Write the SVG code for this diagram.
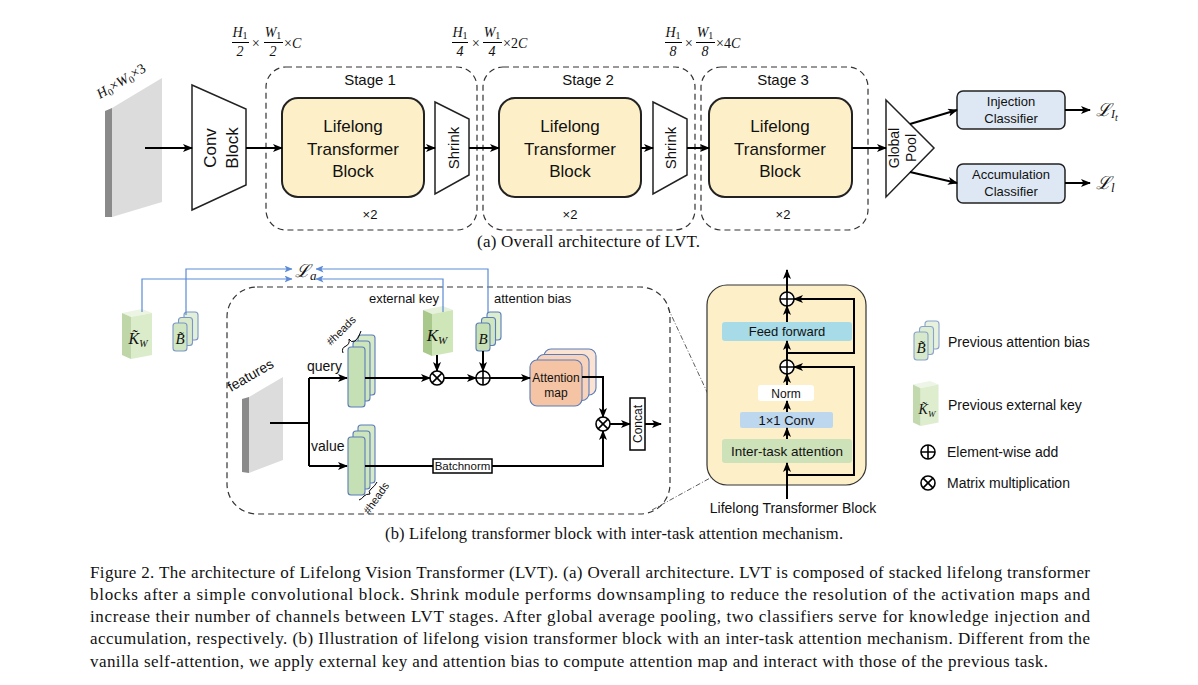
<svg xmlns="http://www.w3.org/2000/svg" xmlns:xlink="http://www.w3.org/1999/xlink" width="1198" height="685" viewBox="0 0 1198 685">
<style>
text{font-family:"Liberation Sans",Arial,sans-serif;fill:#111}
.serif,.serif text{font-family:"Liberation Serif","Times New Roman",serif}
.mi,.mi text{font-family:"Liberation Serif","DejaVu Serif",serif;font-style:italic}
.dash{fill:none;stroke:#333;stroke-width:1.2;stroke-dasharray:6 4}
.ltb{fill:#fdf0c8;stroke:#222;stroke-width:2}
.trap{fill:#fff;stroke:#222;stroke-width:1.5}
.ln{fill:none;stroke:#000;stroke-width:2}
.blue{fill:none;stroke:#5b8bd6;stroke-width:1.2}
.cls{fill:#dde8f4;stroke:#222;stroke-width:1.5}
.st{font-size:15px;text-anchor:middle}
.big{font-size:17px;text-anchor:middle}
.m13{font-size:13px;text-anchor:middle}
.stk{stroke:#5b7cb8;stroke-width:1.1}
.dd{fill:none;stroke:#333;stroke-width:0.8;stroke-dasharray:5 2 1 2}
.bar{stroke:#000;stroke-width:1}
</style>
<defs>
<marker id="ah" viewBox="0 0 10 8" refX="9" refY="4" markerWidth="10" markerHeight="8" markerUnits="userSpaceOnUse" orient="auto"><path d="M0,0 L10,4 L0,8 L2.5,4 z" fill="#000"/></marker>
<marker id="ahb" viewBox="0 0 8 7" refX="7.5" refY="3.5" markerWidth="8" markerHeight="7" markerUnits="userSpaceOnUse" orient="auto"><path d="M0,0 L8,3.5 L0,7 L2,3.5 z" fill="#5b8bd6"/></marker>
<g id="ot"><circle r="7" fill="#fff" stroke="#000" stroke-width="1.6"/><path d="M-4.9,-4.9 L4.9,4.9 M4.9,-4.9 L-4.9,4.9" stroke="#000" stroke-width="1.6"/></g>
<g id="op"><circle r="7" fill="#fff" stroke="#000" stroke-width="1.6"/><path d="M-7,0 H7 M0,-7 V7" stroke="#000" stroke-width="1.6"/></g>
<g id="bstack">
<rect x="11" y="0" width="14" height="28" rx="3" fill="#dcedd0" class="stk"/>
<rect x="5.5" y="5.5" width="14" height="28" rx="3" fill="#d0e6c0" class="stk"/>
<rect x="0" y="11" width="14" height="28" rx="3" fill="#c5e0b4" class="stk"/>
</g>
<g id="kbox">
<polygon points="0,4 20,0 30,4 9,8" fill="#e6f1dc"/>
<polygon points="0,4 9,8 9,50 0,46" fill="#a9c98c"/>
<polygon points="9,8 30,4 30,46 9,50" fill="#cfe6b9"/>
</g>
</defs>
<rect width="1198" height="685" fill="#fff"/>

<!-- (a) Overall architecture -->
<g id="input">
<polygon points="105,111 112,108 112,217 105,217" fill="#8a8a8a"/>
<polygon points="112,108 162,78 162,202 112,217" fill="#dcdcdc"/>
<text class="mi" font-size="14" transform="translate(100,99) rotate(-31)">H<tspan font-size="10" dy="3" font-style="normal">0</tspan><tspan dy="-3" font-style="normal">×</tspan>W<tspan font-size="10" dy="3" font-style="normal">0</tspan><tspan dy="-3" font-style="normal">×3</tspan></text>
</g>
<g id="conv">
<polygon class="trap" points="192,85 246,109 246,185 192,210"/>
<text class="big" transform="translate(216,148) rotate(-90)">Conv</text>
<text class="big" transform="translate(238,148) rotate(-90)">Block</text>
</g>

<g id="stage1">
<rect class="dash" x="266" y="67" width="211" height="163" rx="20"/>
<text class="st" x="370" y="85">Stage 1</text>
<text class="m13" x="370" y="219">×2</text>
</g>
<g id="ltb1">
<rect class="ltb" x="282" y="98" width="142" height="99" rx="16"/>
<text class="big" x="353" y="132">Lifelong</text>
<text class="big" x="353" y="155">Transformer</text>
<text class="big" x="353" y="177">Block</text>
</g>
<g id="shrink1">
<polygon class="trap" points="435,102 469,119 469,175 435,194"/>
<text class="st" transform="translate(459,148) rotate(-90)">Shrink</text>
</g>

<g id="stage2">
<rect class="dash" x="483" y="67" width="212" height="163" rx="20"/>
<text class="st" x="588" y="85">Stage 2</text>
<text class="m13" x="570" y="219">×2</text>
</g>
<g id="ltb2">
<rect class="ltb" x="499" y="98" width="142" height="99" rx="16"/>
<text class="big" x="570" y="132">Lifelong</text>
<text class="big" x="570" y="155">Transformer</text>
<text class="big" x="570" y="177">Block</text>
</g>
<g id="shrink2">
<polygon class="trap" points="653,102 687,119 687,175 653,194"/>
<text class="st" transform="translate(676,148) rotate(-90)">Shrink</text>
</g>

<g id="stage3">
<rect class="dash" x="701" y="67" width="167" height="163" rx="20"/>
<text class="st" x="783" y="85">Stage 3</text>
<text class="m13" x="783" y="219">×2</text>
</g>
<g id="ltb3">
<rect class="ltb" x="709" y="98" width="143" height="99" rx="16"/>
<text class="big" x="780" y="132">Lifelong</text>
<text class="big" x="780" y="155">Transformer</text>
<text class="big" x="780" y="177">Block</text>
</g>

<g id="pool">
<polygon class="trap" points="886,100 934,148 886,197"/>
<text font-size="14" text-anchor="middle" transform="translate(899,148) rotate(-90)">Global</text>
<text font-size="14" text-anchor="middle" transform="translate(916,148) rotate(-90)">Pool</text>
</g>
<g id="inj">
<rect class="cls" x="957" y="91" width="108" height="38" rx="6"/>
<text class="m13" x="1011" y="106">Injection</text>
<text class="m13" x="1011" y="123">Classifier</text>
</g>
<g id="acc">
<rect class="cls" x="957" y="164" width="108" height="39" rx="6"/>
<text class="m13" x="1011" y="179">Accumulation</text>
<text class="m13" x="1011" y="196">Classifier</text>
</g>
<g id="losses">
<text class="mi" font-size="18" x="1096" y="116">ℒ<tspan font-size="12" dy="2">I</tspan><tspan font-size="10" dy="3">t</tspan></text>
<text class="mi" font-size="18" x="1096" y="189">ℒ<tspan font-size="13" dy="3">l</tspan></text>
</g>

<g id="dims" class="mi" font-size="14">
<text x="240" y="37" text-anchor="middle">H<tspan font-size="10" dy="2" font-style="normal">1</tspan></text>
<line class="bar" x1="232" y1="42.5" x2="249" y2="42.5"/>
<text x="240" y="56" text-anchor="middle" font-style="normal">2</text>
<text x="251" y="48" font-style="normal">×</text>
<text x="273" y="37" text-anchor="middle">W<tspan font-size="10" dy="2" font-style="normal">1</tspan></text>
<line class="bar" x1="264" y1="42.5" x2="283" y2="42.5"/>
<text x="273" y="56" text-anchor="middle" font-style="normal">2</text>
<text x="284" y="48"><tspan font-style="normal">×</tspan>C</text>

<text x="460" y="37" text-anchor="middle">H<tspan font-size="10" dy="2" font-style="normal">1</tspan></text>
<line class="bar" x1="452" y1="42.5" x2="468" y2="42.5"/>
<text x="460" y="56" text-anchor="middle" font-style="normal">4</text>
<text x="471" y="48" font-style="normal">×</text>
<text x="492" y="37" text-anchor="middle">W<tspan font-size="10" dy="2" font-style="normal">1</tspan></text>
<line class="bar" x1="483" y1="42.5" x2="502" y2="42.5"/>
<text x="492" y="56" text-anchor="middle" font-style="normal">4</text>
<text x="503" y="48"><tspan font-style="normal">×2</tspan>C</text>

<text x="673" y="37" text-anchor="middle">H<tspan font-size="10" dy="2" font-style="normal">1</tspan></text>
<line class="bar" x1="665" y1="42.5" x2="682" y2="42.5"/>
<text x="673" y="56" text-anchor="middle" font-style="normal">8</text>
<text x="684" y="48" font-style="normal">×</text>
<text x="705" y="37" text-anchor="middle">W<tspan font-size="10" dy="2" font-style="normal">1</tspan></text>
<line class="bar" x1="696" y1="42.5" x2="715" y2="42.5"/>
<text x="705" y="56" text-anchor="middle" font-style="normal">8</text>
<text x="716" y="48"><tspan font-style="normal">×4</tspan>C</text>
</g>

<g id="connectors-a" class="ln" marker-end="url(#ah)">
<line x1="145" y1="148" x2="192" y2="148"/>
<line x1="246" y1="148" x2="282" y2="148"/>
<line x1="424" y1="148" x2="435" y2="148"/>
<line x1="469" y1="148" x2="499" y2="148"/>
<line x1="641" y1="148" x2="653" y2="148"/>
<line x1="687" y1="148" x2="709" y2="148"/>
<line x1="852" y1="148" x2="886" y2="148"/>
<line x1="910" y1="124" x2="957" y2="110"/>
<line x1="910" y1="172" x2="957" y2="183"/>
<line x1="1065" y1="110" x2="1090" y2="110"/>
<line x1="1065" y1="183" x2="1090" y2="183"/>
</g>

<text class="serif" font-size="17" x="477" y="247" textLength="223" lengthAdjust="spacing">(a) Overall architecture of LVT.</text>

<!-- (b) Lifelong transformer block -->
<g id="kw-prev"><use href="#kbox" transform="translate(122,309)" opacity="0.75"/>
<text class="mi" font-size="16" x="138" y="344" text-anchor="middle">K̃<tspan font-size="10" dy="3">W</tspan></text></g>
<g id="b-prev"><use href="#bstack" transform="translate(173,312)" opacity="0.8"/>
<text class="mi" font-size="15" x="180" y="344" text-anchor="middle">B̃</text></g>

<g id="la"><text class="mi" font-size="18" x="295" y="277">ℒ<tspan font-size="13" dy="3">a</tspan></text></g>

<g id="module">
<rect class="dash" x="227" y="287" width="443" height="227" rx="30"/>
</g>
<g id="features">
<polygon points="242,399 249,397 249,473 242,472" fill="#8a8a8a"/>
<polygon points="249,397 283,377 283,460 249,473" fill="#dcdcdc"/>
<text font-size="14" transform="translate(231,392) rotate(-30)">features</text>
</g>
<text font-size="14" x="307" y="371">query</text>
<text font-size="14" x="311" y="451">value</text>

<g id="qstack">
<rect x="358" y="335" width="17" height="60" rx="3" fill="#d6eac8" class="stk"/>
<rect x="353" y="341" width="17" height="60" rx="3" fill="#cde5bd" class="stk"/>
<rect x="348" y="347" width="17" height="60" rx="3" fill="#c5e0b4" class="stk"/>
<path d="M343,353 Q341,348 346,346 Q350,344 349,339 Q351,343 355,341 Q359,338 361,331" fill="none" stroke="#000" stroke-width="1"/>
<text font-size="11" transform="translate(331,346) rotate(-45)">#heads</text>
</g>
<g id="vstack">
<rect x="358" y="425" width="17" height="58" rx="3" fill="#d6eac8" class="stk"/>
<rect x="353" y="431" width="17" height="58" rx="3" fill="#cde5bd" class="stk"/>
<rect x="348" y="437" width="17" height="58" rx="3" fill="#c5e0b4" class="stk"/>
<path d="M359,500 q3,-1 5,-4 q2,-2 6,-2 q-2,-3 1,-5 q4,-3 6,-7" fill="none" stroke="#000" stroke-width="1"/>
<text font-size="11" transform="translate(369,515) rotate(-55)">#heads</text>
</g>

<g id="kw">
<use href="#kbox" transform="translate(423,306)"/>
<text class="mi" font-size="17" x="437" y="341" text-anchor="middle">K<tspan font-size="11" dy="3">W</tspan></text>
<text font-size="13" x="369" y="303">external key</text>
</g>
<g id="bias">
<use href="#bstack" transform="translate(476,312)"/>
<text class="mi" font-size="15" x="483" y="344" text-anchor="middle">B</text>
<text font-size="13" x="494" y="303">attention bias</text>
</g>
<g id="attmap">
<rect x="544" y="349" width="52" height="46" rx="7" fill="#fbe3d3" class="stk"/>
<rect x="537" y="354.5" width="52" height="46" rx="7" fill="#f8d3bb" class="stk"/>
<rect x="530" y="360" width="52" height="46" rx="7" fill="#f5c4a4" class="stk"/>
<text font-size="12" x="556" y="382" text-anchor="middle">Attention</text>
<text font-size="12" x="556" y="397" text-anchor="middle">map</text>
</g>
<g id="batchnorm">
<rect x="433" y="459" width="59" height="14" fill="#fff" stroke="#000" stroke-width="1.5"/>
<text font-size="11.5" x="462.5" y="470" text-anchor="middle">Batchnorm</text>
</g>
<g id="concat">
<rect x="630" y="398" width="15" height="52" fill="#fff" stroke="#000" stroke-width="1.5"/>
<text font-size="12" text-anchor="middle" transform="translate(642,424) rotate(-90)">Concat</text>
</g>
<g id="ops">
<use href="#ot" x="437" y="378"/>
<use href="#op" x="483" y="378"/>
<use href="#ot" x="603" y="424"/>
</g>

<g id="connectors-b">
<g class="blue" marker-end="url(#ahb)">
<path d="M186,315 V269 H292"/>
<path d="M142,312 V279 H292"/>
<path d="M488,313 V269 H316"/>
<path d="M443,312 V279 H316"/>
</g>
<path class="ln" d="M270,423 H309 M309,378 V466"/>
<g class="ln" marker-end="url(#ah)">
<path d="M309,378 H347"/>
<path d="M309,466 H347"/>
<path d="M365,378 H430"/>
<path d="M437,355 V371"/>
<path d="M483,351 V371"/>
<path d="M444,378 H476"/>
<path d="M490,378 H530"/>
<path d="M582,377 H603 V417"/>
<path d="M492,466 H603 V431"/>
<path d="M610,424 H630"/>
<path d="M645,424 H661"/>
</g>
<path class="ln" d="M365,466 H433"/>
<line class="dd" x1="668" y1="308" x2="727" y2="435"/>
<line class="dd" x1="652" y1="510" x2="732" y2="466"/>
</g>

<g id="ltb-detail">
<rect x="707" y="285" width="159" height="200" rx="20" fill="#fdf0c8" stroke="#333" stroke-width="1.2"/>
<rect x="722" y="322" width="130" height="19" rx="3" fill="#a6dbe7"/>
<text font-size="13" x="787" y="336" text-anchor="middle">Feed forward</text>
<rect x="758" y="385" width="56" height="16" rx="3" fill="#fff"/>
<text font-size="12" x="786" y="397.5" text-anchor="middle">Norm</text>
<rect x="740" y="412" width="93" height="16" rx="2" fill="#bdd7ee"/>
<text font-size="13" x="786.5" y="425" text-anchor="middle">1×1 Conv</text>
<rect x="722" y="439" width="130" height="24" rx="3" fill="#cde2b8"/>
<text font-size="13.5" x="787" y="456" text-anchor="middle">Inter-task attention</text>
<g class="ln" marker-end="url(#ah)">
<path d="M787,499 V463"/>
<path d="M787,439 V428"/>
<path d="M787,412 V401"/>
<path d="M787,385 V374"/>
<path d="M787,360 V341"/>
<path d="M787,322 V306"/>
<path d="M787,292 V270"/>
<path d="M787,475 H854 V367 H794"/>
<path d="M787,353 H854 V299 H794"/>
</g>
<use href="#op" x="787" y="367"/>
<use href="#op" x="787" y="299"/>
<text font-size="14" x="793" y="513" text-anchor="middle">Lifelong Transformer Block</text>
</g>

<g id="legend">
<use href="#bstack" transform="translate(914,321)" opacity="0.7"/>
<text class="mi" font-size="15" x="921" y="353" text-anchor="middle">B̃</text>
<text font-size="14" x="948" y="347">Previous attention bias</text>
<use href="#kbox" transform="translate(913,381) scale(0.85,0.9)" opacity="0.7"/>
<text class="mi" font-size="14" x="927" y="414" text-anchor="middle">K̃<tspan font-size="9" dy="3">W</tspan></text>
<text font-size="14" x="948" y="410">Previous external key</text>
<use href="#op" x="928" y="452"/>
<text font-size="14" x="947" y="457">Element-wise add</text>
<use href="#ot" x="928" y="483"/>
<text font-size="14" x="947" y="488">Matrix multiplication</text>
</g>

<text class="serif" font-size="16.5" x="385" y="539" textLength="458" lengthAdjust="spacing">(b) Lifelong transformer block with inter-task attention mechanism.</text>

<g id="caption" class="serif" font-size="17">
<text x="90" y="578" textLength="1000" lengthAdjust="spacing">Figure 2. The architecture of Lifelong Vision Transformer (LVT). (a) Overall architecture. LVT is composed of stacked lifelong transformer</text>
<text x="90" y="600" textLength="1000" lengthAdjust="spacing">blocks after a simple convolutional block.  Shrink module performs downsampling to reduce the resolution of the activation maps and</text>
<text x="90" y="622" textLength="1000" lengthAdjust="spacing">increase their number of channels between LVT stages.  After global average pooling, two classifiers serve for knowledge injection and</text>
<text x="90" y="644" textLength="1000" lengthAdjust="spacing">accumulation, respectively. (b) Illustration of lifelong vision transformer block with an inter-task attention mechanism. Different from the</text>
<text x="90" y="667" textLength="958" lengthAdjust="spacing">vanilla self-attention, we apply external key and attention bias to compute attention map and interact with those of the previous task.</text>
</g>
</svg>
